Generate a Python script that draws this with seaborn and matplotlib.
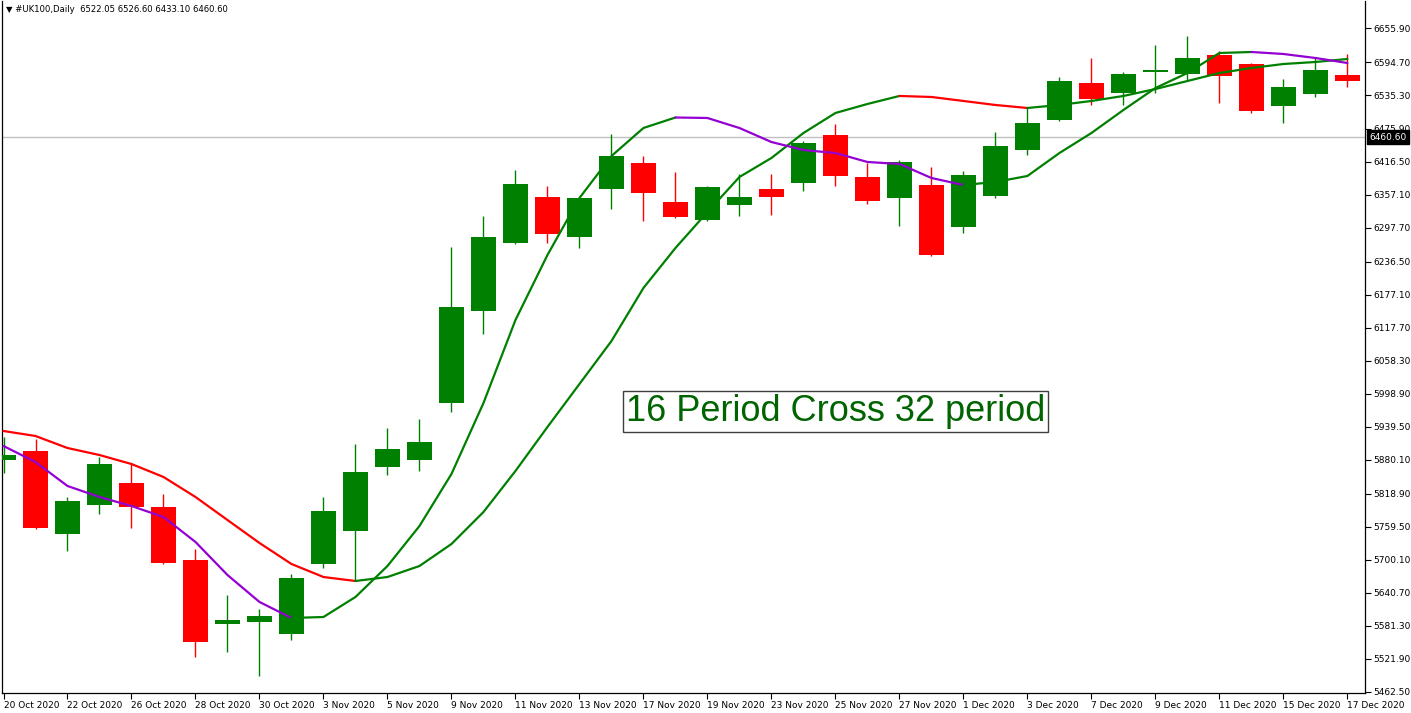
import numpy as np
import pandas as pd
import matplotlib
matplotlib.use("Agg")
import matplotlib.pyplot as plt
import seaborn as sns
from matplotlib.transforms import blended_transform_factory

# ---------------- data ----------------
date_labels = ["20 Oct 2020", "22 Oct 2020", "26 Oct 2020", "28 Oct 2020", "30 Oct 2020",
               "3 Nov 2020", "5 Nov 2020", "9 Nov 2020", "11 Nov 2020", "13 Nov 2020",
               "17 Nov 2020", "19 Nov 2020", "23 Nov 2020", "25 Nov 2020", "27 Nov 2020",
               "1 Dec 2020", "3 Dec 2020", "7 Dec 2020", "9 Dec 2020", "11 Dec 2020",
               "15 Dec 2020", "17 Dec 2020"]

opens = [5879.7, 5895.9, 5746.7, 5798.8, 5838.4, 5795.2, 5699.9, 5584.8, 5588.4, 5566.8,
         5692.7, 5752.1, 5867.1, 5879.7, 5982.2, 6147.7, 6270.0, 6352.7, 6280.8, 6367.1,
         6413.9, 6343.7, 6311.4, 6338.3, 6367.1, 6377.9, 6464.2, 6388.7, 6350.9, 6374.3,
         6298.8, 6354.5, 6437.2, 6491.2, 6557.7, 6539.7, 6577.5, 6573.9, 6608.1, 6591.9,
         6516.4, 6537.9, 6572.1]
highs = [5921.1, 5917.5, 5813.2, 5885.1, 5874.3, 5818.6, 5719.7, 5637.0, 5611.8, 5674.7,
         5813.2, 5908.5, 5937.3, 5953.5, 6262.8, 6318.5, 6401.3, 6372.5, 6352.7, 6466.0,
         6426.4, 6397.7, 6372.5, 6394.1, 6394.1, 6453.4, 6484.0, 6413.9, 6419.3, 6406.7,
         6399.5, 6469.6, 6512.8, 6568.5, 6602.7, 6577.5, 6626.1, 6642.3, 6615.3, 6593.7,
         6564.9, 6604.5, 6609.9]
lows = [5856.4, 5755.6, 5716.1, 5782.6, 5757.4, 5692.7, 5525.5, 5534.4, 5491.3, 5556.0,
        5685.5, 5663.9, 5852.8, 5860.0, 5966.1, 6106.3, 6268.2, 6270.0, 6261.0, 6331.1,
        6309.6, 6315.0, 6309.6, 6318.5, 6320.3, 6363.5, 6372.5, 6340.1, 6300.6, 6246.6,
        6288.0, 6350.9, 6428.2, 6489.4, 6518.2, 6518.2, 6539.7, 6563.1, 6521.8, 6503.8,
        6485.8, 6532.6, 6550.5]
closes = [5888.7, 5757.4, 5806.0, 5872.5, 5795.2, 5694.5, 5552.4, 5592.0, 5599.2, 5667.5,
          5788.0, 5858.2, 5899.5, 5912.1, 6154.9, 6280.8, 6376.1, 6286.2, 6350.9, 6426.4,
          6359.9, 6316.7, 6370.7, 6352.7, 6352.7, 6449.8, 6390.5, 6345.5, 6415.7, 6248.4,
          6392.3, 6444.4, 6485.8, 6561.3, 6529.0, 6573.9, 6581.1, 6602.7, 6570.3, 6507.4,
          6550.5, 6581.1, 6561.3]

ma_fast = [5904.9, 5876.1, 5833.0, 5813.2, 5797.0, 5777.2, 5732.3, 5672.9, 5624.4, 5595.6,
           5597.4, 5633.4, 5689.1, 5761.0, 5854.6, 5982.2, 6131.5, 6248.4, 6350.9, 6426.4,
           6476.8, 6495.7, 6494.8, 6476.8, 6451.6, 6437.2, 6431.8, 6415.7, 6412.1, 6386.9,
           6374.3, 6379.7, 6390.5, 6431.8, 6467.8, 6509.2, 6548.7, 6575.7, 6611.7, 6613.5,
           6609.9, 6602.7, 6593.7]
ma_slow = [5931.9, 5922.9, 5901.3, 5888.7, 5872.5, 5849.2, 5813.2, 5771.8, 5730.5, 5692.7,
           5669.3, 5662.1, 5669.3, 5689.1, 5728.7, 5786.2, 5860.0, 5939.1, 6016.4, 6093.7,
           6189.1, 6261.0, 6325.7, 6388.7, 6422.9, 6467.8, 6503.8, 6520.0, 6534.4, 6532.6,
           6525.4, 6518.2, 6512.8, 6518.2, 6525.4, 6534.4, 6546.9, 6561.3, 6575.7, 6584.7,
           6591.9, 6595.5, 6600.9]

y_tick_values = [6655.90, 6594.70, 6535.30, 6475.90, 6416.50, 6357.10, 6297.70, 6236.50,
                 6177.10, 6117.70, 6058.30, 5998.90, 5939.50, 5880.10, 5818.90, 5759.50,
                 5700.10, 5640.70, 5581.30, 5521.90, 5462.50]
last_price = 6460.60
header_text = "\u25BC #UK100,Daily  6522.05 6526.60 6433.10 6460.60"
note_text = "16 Period Cross 32 period"
note_bar = 26
note_price = 5967.0

# ---------------- style ----------------
GREEN = "#008000"
RED = "#FF0000"
VIOLET = "#9400D3"

sns.set_theme(style="white")
plt.rcParams['font.family'] = ['DejaVu Sans']

W, H = 1411, 713
fig = plt.figure(figsize=(W / 100, H / 100), dpi=100)
fig.patch.set_facecolor("white")
ax = fig.add_axes([2 / W, 20 / H, 1363 / W, 692 / H])
ax.set_facecolor("white")

df = pd.DataFrame({"open": opens, "high": highs, "low": lows, "close": closes})
df["x"] = np.arange(len(df))
df["color"] = np.where(df["close"] >= df["open"], GREEN, RED)
df["bottom"] = df[["open", "close"]].min(axis=1)
df["height"] = (df["close"] - df["open"]).abs().clip(lower=1.0)

# current price line
ax.axhline(last_price, color="#C0C0C0", lw=1.0, zorder=1)

# candles
ax.vlines(df["x"], df["low"], df["high"], colors=df["color"], lw=1.0, zorder=2)
ax.bar(df["x"], df["height"], bottom=df["bottom"], width=0.78, color=df["color"],
       linewidth=0, zorder=3)


def plot_colored(values, up, down):
    vals = np.asarray(values)
    n = len(vals)
    seg_cols = [up if vals[i] >= vals[i - 1] else down for i in range(1, n)]
    start = 0
    for i in range(1, len(seg_cols) + 1):
        if i == len(seg_cols) or seg_cols[i] != seg_cols[start]:
            idx = np.arange(start, i + 1)
            seg = pd.DataFrame({"x": idx, "y": vals[idx]})
            sns.lineplot(data=seg, x="x", y="y", color=seg_cols[start], lw=1.6,
                         ax=ax, estimator=None, sort=False, zorder=4)
            start = i


plot_colored(ma_slow, GREEN, RED)
plot_colored(ma_fast, GREEN, VIOLET)

# axes limits
ax.set_xlim(-0.047, 42.55)
ax.set_ylim(5460.7, 6705.2)

# spines
for s in ["left", "right", "bottom"]:
    ax.spines[s].set_visible(True)
    ax.spines[s].set_color("black")
    ax.spines[s].set_linewidth(0.9)
ax.spines["top"].set_visible(False)

# y axis on right
ax.yaxis.tick_right()
ax.set_yticks(y_tick_values)
ax.set_yticklabels([f"{v:.2f}" for v in y_tick_values])
ax.tick_params(axis="y", which="both", direction="out", length=4, width=0.8,
               pad=2, labelsize=6.5, colors="black", right=True, left=False)

# x axis
ax.set_xticks(np.arange(0, len(df), 2))
ax.set_xticklabels(date_labels, ha="left")
ax.tick_params(axis="x", which="both", direction="out", length=4, width=0.8,
               pad=1.5, labelsize=6.5, colors="black", bottom=True)
ax.set_xlabel("")
ax.set_ylabel("")
ax.grid(False)

# current price tag
trans = blended_transform_factory(ax.transAxes, ax.transData)
ax.text(1 + 4 / 1363, last_price, f"{last_price:.2f}", transform=trans, ha="left",
        va="center", color="white", fontsize=6.5, zorder=10, clip_on=False,
        bbox=dict(boxstyle="square,pad=0.25", facecolor="black", edgecolor="black"))

# note box
ax.text(note_bar, note_price, note_text, ha="center", va="center", fontsize=26,
        color="#006400", family=["Liberation Sans", "DejaVu Sans"], zorder=6,
        bbox=dict(boxstyle="square,pad=0.09", facecolor="white", edgecolor="#404040", lw=1.0))

# header
fig.text(6 / W, 1 - 10 / H, header_text, fontsize=6.1, ha="left", va="center", color="black")

fig.savefig("out.png", dpi=100, facecolor="white")
